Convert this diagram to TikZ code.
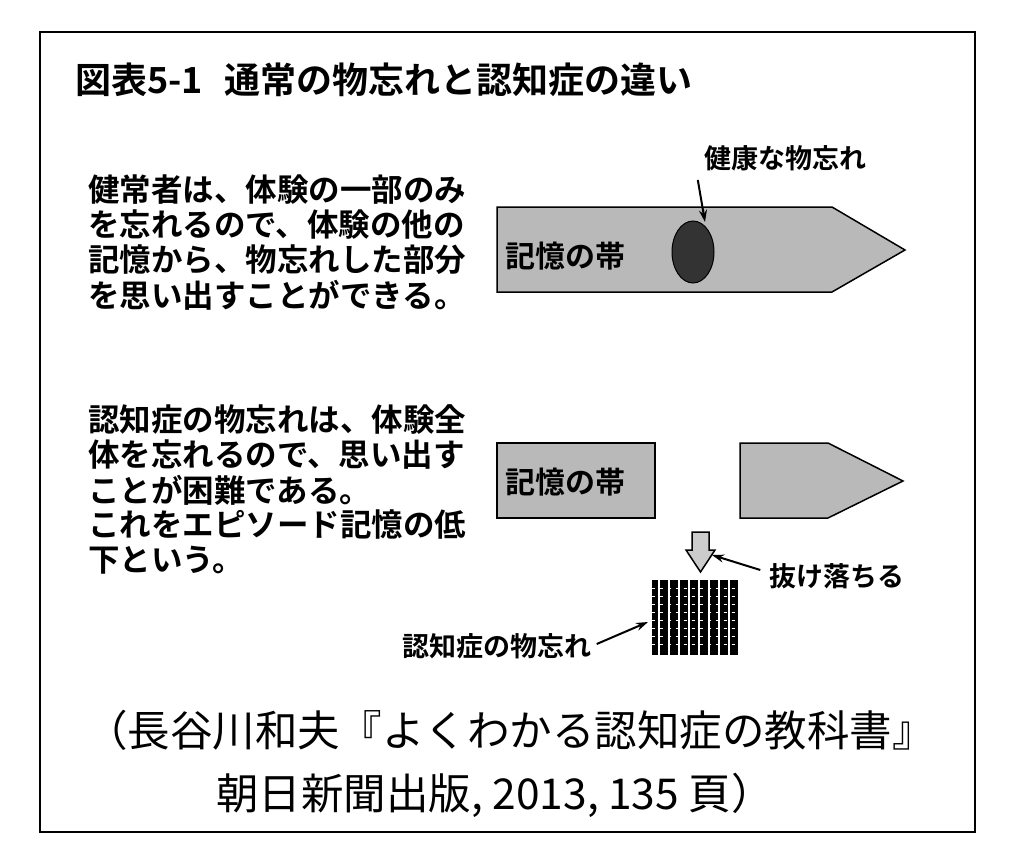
\documentclass[tikz,border=0pt]{standalone}
\usepackage{fontspec}
\newfontfamily\jp{Noto Sans CJK JP}
\newfontfamily\jpb{Noto Sans CJK JP Bold}
\usetikzlibrary{arrows.meta}
\begin{document}
\begin{tikzpicture}[x=1pt,y=-1pt,
  band/.style={draw=black,line width=1.5pt,fill=gray!55},
  body/.style={anchor=west,font=\jpb\fontsize{31.5}{35}\selectfont,inner sep=0pt},
  lab/.style={font=\jpb\fontsize{27}{30}\selectfont,inner sep=1pt},
  cite/.style={font=\jp\fontsize{42.5}{50}\selectfont,inner sep=0pt},
  pt/.style={-{Stealth[length=12pt,width=8pt]},line width=2pt}]
\useasboundingbox (0,0) rectangle (1013,867);
\draw[line width=1.5pt] (40,32) rectangle (975,832);
\node[anchor=west,font=\jpb\fontsize{36}{38}\selectfont,inner sep=0pt] (title) at (75,80) {図表5-1\hspace{0.6em}通常の物忘れと認知症の違い};
\node[body] (p1a) at (88,190) {健常者は、体験の一部のみ};
\node[body] (p1b) at (88,225) {を忘れるので、体験の他の};
\node[body] (p1c) at (88,260) {記憶から、物忘れした部分};
\node[body] (p1d) at (88,295) {を思い出すことができる。};
\node[body] (p2a) at (88,420) {認知症の物忘れは、体験全};
\node[body] (p2b) at (88,455) {体を忘れるので、思い出す};
\node[body] (p2c) at (88,490) {ことが困難である。};
\node[body] (p2d) at (88,525) {これをエピソード記憶の低};
\node[body] (p2e) at (88,560) {下という。};
% band 1
\draw[band] (497,207) -- (832,207) -- (905,250) -- (832,292) -- (497,292) -- cycle;
\node[font=\jpb\fontsize{30}{32}\selectfont,inner sep=0pt] (b1) at (565,256) {記憶の帯};
\draw[fill=black!80,line width=1pt] (693,252) ellipse [x radius=21,y radius=31];
\coordinate (hole) at (705,222);
\node[lab] (l1) at (785,158) {健康な物忘れ};
\draw[pt] (l1.south west)++(-5,8) -- (hole);
% band 2
\draw[band] (497,443) rectangle (655,518);
\node[font=\jpb\fontsize{30}{32}\selectfont,inner sep=0pt] (b2) at (565,482) {記憶の帯};
\draw[band] (740,443) -- (828,443) -- (903,481) -- (828,518) -- (740,518) -- cycle;
% down arrow
\draw[fill=gray!40,line width=1.5pt] (692,532) -- (709,532) -- (709,550) -- (715,550) -- (700.5,572) -- (686,550) -- (692,550) -- cycle;
\coordinate (da) at (712,555);
\node[lab] (l2) at (837,576) {抜け落ちる};
\draw[pt] (l2.west)++(-8,-6) -- (da);
% grid
\fill[black] (652,580) rectangle (738,655);
\foreach \x in {659,669,679,689,699,709,719,729} \draw[white,line width=2pt] (\x,580) -- (\x,655);
\foreach \y in {588,596,604,612,620,628,636,644} \draw[white,line width=1pt,dash pattern=on 3pt off 5pt] (652,\y) -- (738,\y);
\coordinate (gr) at (648,622);
\node[lab] (l3) at (497,646) {認知症の物忘れ};
\draw[pt] (l3.east)++(4,-2) -- (gr);
\node[cite] (c1) at (510,730) {（長谷川和夫『よくわかる認知症の教科書』};
\node[cite] (c2) at (495,795) {朝日新聞出版, 2013, 135 頁）};
\end{tikzpicture}
\end{document}
